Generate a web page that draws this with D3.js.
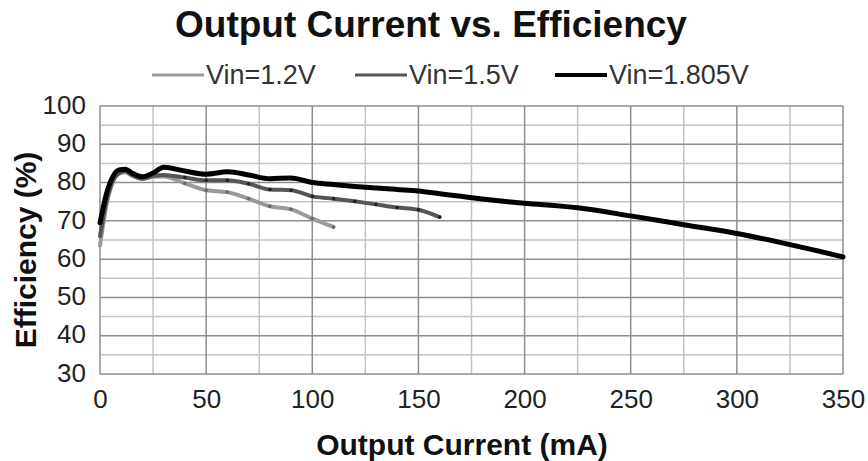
<!DOCTYPE html>
<html>
<head>
<meta charset="utf-8">
<script src="https://cdn.jsdelivr.net/npm/d3@7"></script>
<style>
  body { margin: 0; background: #fff; }
  svg { font-family: "Liberation Sans", Arial, sans-serif; }
</style>
</head>
<body>
<div id="chart"></div>
<script>
// efficiency curves (mA, %)
const x12 = [0, 3, 6, 9, 12, 15, 20, 25, 30, 40, 50, 60, 70, 80, 90, 100, 110];
const eff12 = [63.5, 74, 80, 82.3, 82.7, 81.8, 81, 81.5, 81.6, 79.8, 78, 77.5, 75.8, 73.8, 73, 70.6, 68.4];

const x15 = [0, 3, 6, 9, 12, 15, 20, 25, 30, 40, 50, 60, 70, 80, 90, 100, 110, 120, 130, 140, 150, 160];
const eff15 = [66, 75, 80.5, 82.5, 83, 82, 81, 81.8, 82, 81.3, 80.6, 80.6, 79.7, 78.2, 78, 76.4, 75.8, 75.1, 74.3, 73.5, 72.9, 71];

const x18 = [0, 3, 6, 9, 12, 15, 20, 25, 30, 40, 50, 60, 70, 80, 90, 100, 110, 120, 130, 140, 150, 160, 170, 180, 190, 200, 225, 250, 275, 300, 325, 350];
const eff18 = [69.5, 77, 81.5, 83.3, 83.5, 82.5, 81.5, 82.5, 84, 83, 82.2, 82.8, 82, 81, 81.2, 80, 79.5, 79, 78.6, 78.2, 77.8, 77.1, 76.4, 75.7, 75.1, 74.6, 73.4, 71.3, 69, 66.7, 63.8, 60.6];

const seriesNames = ["Vin=1.2V", "Vin=1.5V", "Vin=1.805V"];
const xTicks = [0, 50, 100, 150, 200, 250, 300, 350];
const yTicks = [30, 40, 50, 60, 70, 80, 90, 100];

const width = 868;
const height = 461;
const margin = { top: 106, right: 25, bottom: 87, left: 100 };

const svg = d3.select("#chart")
    .append("svg")
    .attr("width", width)
    .attr("height", height);

const xScale = d3.scaleLinear()
    .domain([0, 350])
    .range([margin.left, width - margin.right]);

const yScale = d3.scaleLinear()
    .domain([30, 100])
    .range([height - margin.bottom, margin.top]);

// grid: light minor lines every 25 mA / 5 %, darker major lines
const grid = svg.append("g");
d3.range(25, 350, 50).forEach(v => {
    grid.append("line")
        .attr("x1", xScale(v)).attr("x2", xScale(v))
        .attr("y1", yScale(30)).attr("y2", yScale(100))
        .attr("stroke", "#c4c4c4").attr("stroke-width", 1.5);
});
d3.range(35, 100, 10).forEach(v => {
    grid.append("line")
        .attr("x1", xScale(0)).attr("x2", xScale(350))
        .attr("y1", yScale(v)).attr("y2", yScale(v))
        .attr("stroke", "#c4c4c4").attr("stroke-width", 1.5);
});
xTicks.slice(1, -1).forEach(v => {
    grid.append("line")
        .attr("x1", xScale(v)).attr("x2", xScale(v))
        .attr("y1", yScale(30)).attr("y2", yScale(100))
        .attr("stroke", "#8e8e8e").attr("stroke-width", 1.5);
});
yTicks.slice(1, -1).forEach(v => {
    grid.append("line")
        .attr("x1", xScale(0)).attr("x2", xScale(350))
        .attr("y1", yScale(v)).attr("y2", yScale(v))
        .attr("stroke", "#8e8e8e").attr("stroke-width", 1.5);
});
grid.append("rect")
    .attr("x", xScale(0)).attr("y", yScale(100))
    .attr("width", xScale(350) - xScale(0))
    .attr("height", yScale(30) - yScale(100))
    .attr("fill", "none").attr("stroke", "#8e8e8e").attr("stroke-width", 1.5);

// axes (labels only)
const xAxis = svg.append("g")
    .attr("transform", `translate(0,${yScale(30)})`)
    .call(d3.axisBottom(xScale).tickValues(xTicks).tickSize(0).tickPadding(16));
const yAxis = svg.append("g")
    .attr("transform", `translate(${xScale(0)},0)`)
    .call(d3.axisLeft(yScale).tickValues(yTicks).tickSize(0).tickPadding(14));
[xAxis, yAxis].forEach(a => {
    a.select(".domain").remove();
    a.selectAll("text")
        .attr("font-family", "Liberation Sans, Arial, sans-serif")
        .attr("font-size", "26px")
        .attr("fill", "#222");
});
yAxis.selectAll("text").attr("dy", "0.28em");

// series
const series = [
    { xs: x12, ys: eff12, color: "#9a9a9a", width: 4, dot: "#6a6a6a" },
    { xs: x15, ys: eff15, color: "#555", width: 4, dot: "#222" },
    { xs: x18, ys: eff18, color: "#000", width: 5, dot: null }
];

const line = d3.line()
    .x(d => xScale(d[0]))
    .y(d => yScale(d[1]))
    .curve(d3.curveMonotoneX);

series.forEach(s => {
    const pts = s.xs.map((x, i) => [x, s.ys[i]]);
    svg.append("path")
        .datum(pts)
        .attr("d", line)
        .attr("fill", "none")
        .attr("stroke", s.color)
        .attr("stroke-width", s.width)
        .attr("stroke-linecap", "round")
        .attr("stroke-linejoin", "round");
    if (s.dot) {
        svg.selectAll(null)
            .data(pts.filter(p => p[0] >= 40))
            .enter()
            .append("circle")
            .attr("cx", d => xScale(d[0]))
            .attr("cy", d => yScale(d[1]))
            .attr("r", 1.8)
            .attr("fill", s.dot);
    }
});

// title
svg.append("text")
    .attr("x", 431)
    .attr("y", 37)
    .attr("text-anchor", "middle")
    .attr("font-size", "37px")
    .attr("font-weight", "bold")
    .attr("fill", "#111")
    .text("Output Current vs. Efficiency");

// legend
const legendX = [152, 355, 555];
const legend = svg.append("g");
series.forEach((s, i) => {
    legend.append("line")
        .attr("x1", legendX[i]).attr("x2", legendX[i] + 52)
        .attr("y1", 75).attr("y2", 75)
        .attr("stroke", s.color)
        .attr("stroke-width", i === 2 ? 4 : 3);
    legend.append("text")
        .attr("x", legendX[i] + 54)
        .attr("y", 84)
        .attr("font-size", "27px")
        .attr("fill", "#333")
        .text(seriesNames[i]);
});

// axis titles
svg.append("text")
    .attr("x", 462)
    .attr("y", 455)
    .attr("text-anchor", "middle")
    .attr("font-size", "30px")
    .attr("font-weight", "bold")
    .attr("fill", "#111")
    .text("Output Current (mA)");

svg.append("text")
    .attr("transform", "translate(36,250) rotate(-90)")
    .attr("text-anchor", "middle")
    .attr("font-size", "30px")
    .attr("font-weight", "bold")
    .attr("fill", "#111")
    .text("Efficiency (%)");
</script>
</body>
</html>
